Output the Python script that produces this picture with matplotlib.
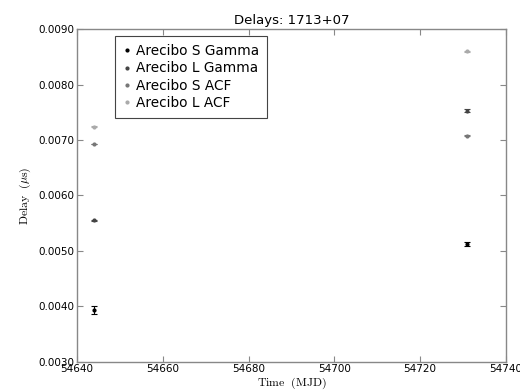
import matplotlib
matplotlib.use("Agg")
import matplotlib.pyplot as plt
from matplotlib.lines import Line2D

# delay measurements per epoch (MJD), in microseconds
s_gamma_mjd = [54644.0, 54730.9]
s_gamma_delay = [0.00393, 0.00512]
s_gamma_err = [0.00008, 0.00004]

l_gamma_mjd = [54644.0, 54730.9]
l_gamma_delay = [0.00555, 0.00753]
l_gamma_err = [0.00001, 0.00003]

s_acf_mjd = [54644.0, 54730.9]
s_acf_delay = [0.00693, 0.00708]
s_acf_err = [0.000005, 0.00001]

l_acf_mjd = [54644.0, 54730.9]
l_acf_delay = [0.00724, 0.00860]
l_acf_err = [0.000005, 0.000005]

plt.rcParams["mathtext.fontset"] = "cm"

fig = plt.figure(figsize=(5.2, 3.9), dpi=100)
ax = fig.add_axes([0.148, 0.073, 0.825, 0.852])

series = [
    (s_gamma_mjd, s_gamma_delay, s_gamma_err, "#000000", "Arecibo S Gamma"),
    (l_gamma_mjd, l_gamma_delay, l_gamma_err, "#444444", "Arecibo L Gamma"),
    (s_acf_mjd, s_acf_delay, s_acf_err, "#777777", "Arecibo S ACF"),
    (l_acf_mjd, l_acf_delay, l_acf_err, "#aaaaaa", "Arecibo L ACF"),
]
handles = []
for x, y, e, c, lab in series:
    ax.errorbar(x, y, yerr=e, fmt=".", ms=4, color=c, ecolor=c,
                elinewidth=0.8, capsize=2, capthick=0.8)
    # legend shows only the dot, no error bar
    handles.append(Line2D([], [], ls="none", marker=".", ms=4, color=c, label=lab))

ax.set_xlim(54640, 54740)
ax.set_ylim(0.0030, 0.0090)
ax.set_xticks(range(54640, 54741, 20))
ax.set_yticks([0.003 + 0.001 * i for i in range(7)])
ax.yaxis.set_major_formatter(matplotlib.ticker.FormatStrFormatter("%.4f"))
ax.tick_params(direction="in", top=True, right=True, labelsize=7.5,
               length=4, color="#888888", pad=2)
for sp in ax.spines.values():
    sp.set_color("#888888")
    sp.set_linewidth(1.0)

ax.set_title("Delays: 1713+07", fontsize=9.5, pad=4)
ax.set_xlabel(r"$\rm{Time\ \ (MJD)}$", fontsize=8.5, labelpad=1)
ax.set_ylabel(r"$\rm{Delay\ \ }(\mu s)$", fontsize=8.5, labelpad=4)

leg = ax.legend(handles=handles, loc="upper left", bbox_to_anchor=(0.221, 0.908),
                bbox_transform=fig.transFigure, fontsize=9.8, numpoints=1,
                handlelength=0.6, handletextpad=0.35, borderpad=0.6,
                labelspacing=0.24, borderaxespad=0, fancybox=False, framealpha=1)
leg.get_frame().set_edgecolor("#444444")
leg.get_frame().set_linewidth(0.8)

fig.savefig("out.png", dpi=100)
